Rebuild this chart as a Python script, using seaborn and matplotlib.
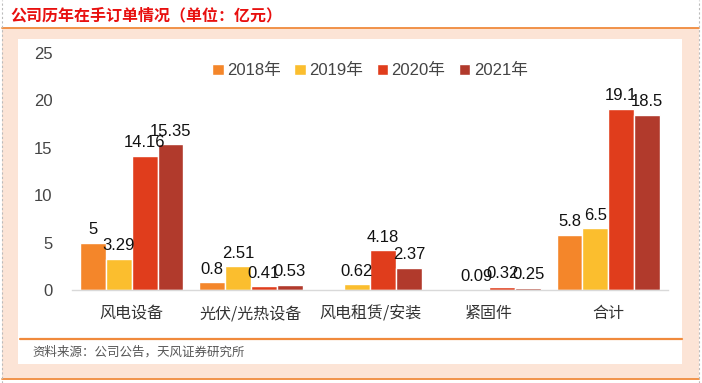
import matplotlib
matplotlib.use("Agg")
import matplotlib.pyplot as plt
from matplotlib.patches import Rectangle
from matplotlib.lines import Line2D
import seaborn as sns
import pandas as pd

categories = ["风电设备", "光伏/光热设备", "风电租赁/安装", "紧固件", "合计"]
years = ["2018年", "2019年", "2020年", "2021年"]
v2018 = [5, 0.8, 0.0, 0.0, 5.8]
v2019 = [3.29, 2.51, 0.62, 0.09, 6.5]
v2020 = [14.16, 0.41, 4.18, 0.32, 19.1]
v2021 = [15.35, 0.53, 2.37, 0.25, 18.5]
labels2018 = ["5", "0.8", "", "", "5.8"]
labels2019 = ["3.29", "2.51", "0.62", "0.09", "6.5"]
labels2020 = ["14.16", "0.41", "4.18", "0.32", "19.1"]
labels2021 = ["15.35", "0.53", "2.37", "0.25", "18.5"]
colors = ["#F4862A", "#FBBE2E", "#E03D1C", "#B13A2C"]
yticks = [0, 5, 10, 15, 20, 25]

sns.set_theme(style="white")
plt.rcParams["font.family"] = ["Noto Sans CJK SC", "DejaVu Sans"]
NUM = ["Liberation Sans", "Noto Sans CJK SC"]

W, H = 702, 383
fig = plt.figure(figsize=(W / 100, H / 100), dpi=100)
fig.patch.set_facecolor("white")

def px(x0, y0, w, h):
    return (x0 / W, 1 - (y0 + h) / H, w / W, h / H)

# background frames
x, y, w, h = px(2, 28, 697, 350)
fig.add_artist(Rectangle((x, y), w, h, transform=fig.transFigure, facecolor="#FCE4D6", edgecolor="none", zorder=0))
x, y, w, h = px(18, 39, 664, 325)
fig.add_artist(Rectangle((x, y), w, h, transform=fig.transFigure, facecolor="white", edgecolor="none", zorder=0))
fig.add_artist(Line2D([2 / W, 699 / W], [1 - 27.5 / H] * 2, transform=fig.transFigure, color="#F08A3C", lw=1.3))
fig.add_artist(Line2D([2 / W, 699 / W], [1 - 378.5 / H] * 2, transform=fig.transFigure, color="#F08A3C", lw=1.3))
fig.add_artist(Line2D([20 / W, 682 / W], [1 - 339 / H] * 2, transform=fig.transFigure, color="#F08A3C", lw=1.6))
fig.add_artist(Line2D([2 / W] * 2, [0, 1], transform=fig.transFigure, color="#BBBBBB", lw=0.8, ls=(0, (2, 2))))
fig.add_artist(Line2D([699 / W] * 2, [0, 1], transform=fig.transFigure, color="#BBBBBB", lw=0.8, ls=(0, (2, 2))))

fig.text(10 / W, 1 - 15 / H, "公司历年在手订单情况（单位：亿元）", color="#E8100F", fontsize=11.5,
         fontweight="bold", va="center", ha="left")
fig.text(32 / W, 1 - 352 / H, "资料来源：公司公告，天风证券研究所", color="#555555", fontsize=9,
         va="center", ha="left")

ax = fig.add_axes(px(72, 53, 596, 237))
ax.set_facecolor("none")

df = pd.DataFrame({
    "cat": categories * 4,
    "year": [yr for yr in years for _ in categories],
    "val": v2018 + v2019 + v2020 + v2021,
})
sns.barplot(data=df, x="cat", y="val", hue="year", palette=colors, ax=ax,
            width=0.87, saturation=1, errorbar=None, legend=True)

all_labels = [labels2018, labels2019, labels2020, labels2021]
for cont, labs in zip(ax.containers, all_labels):
    ax.bar_label(cont, labels=labs, padding=4, fontsize=12, color="#111111", family=NUM)

ax.set_ylim(0, 25)
ax.set_xlim(-0.5, 4.5)
ax.set_yticks(yticks)
ax.set_yticklabels([str(t) for t in yticks], color="#444444", fontsize=12, family=NUM)
ax.tick_params(axis="y", length=0, pad=14)
ax.tick_params(axis="x", length=0, pad=11, labelsize=11.5, labelcolor="#333333")
ax.set_xlabel("")
ax.set_ylabel("")
for s in ["top", "right", "left"]:
    ax.spines[s].set_visible(False)
ax.spines["bottom"].set_color("#D9D9D9")
ax.spines["bottom"].set_linewidth(1)

leg = ax.legend(loc="upper center", bbox_to_anchor=(0.5, 1.02), ncol=4, frameon=False,
                prop={"family": NUM, "size": 12}, handlelength=0.7, handleheight=0.7,
                handletextpad=0.2, columnspacing=0.8)
for t in leg.get_texts():
    t.set_color("#444444")

fig.savefig("out.png", dpi=100)
